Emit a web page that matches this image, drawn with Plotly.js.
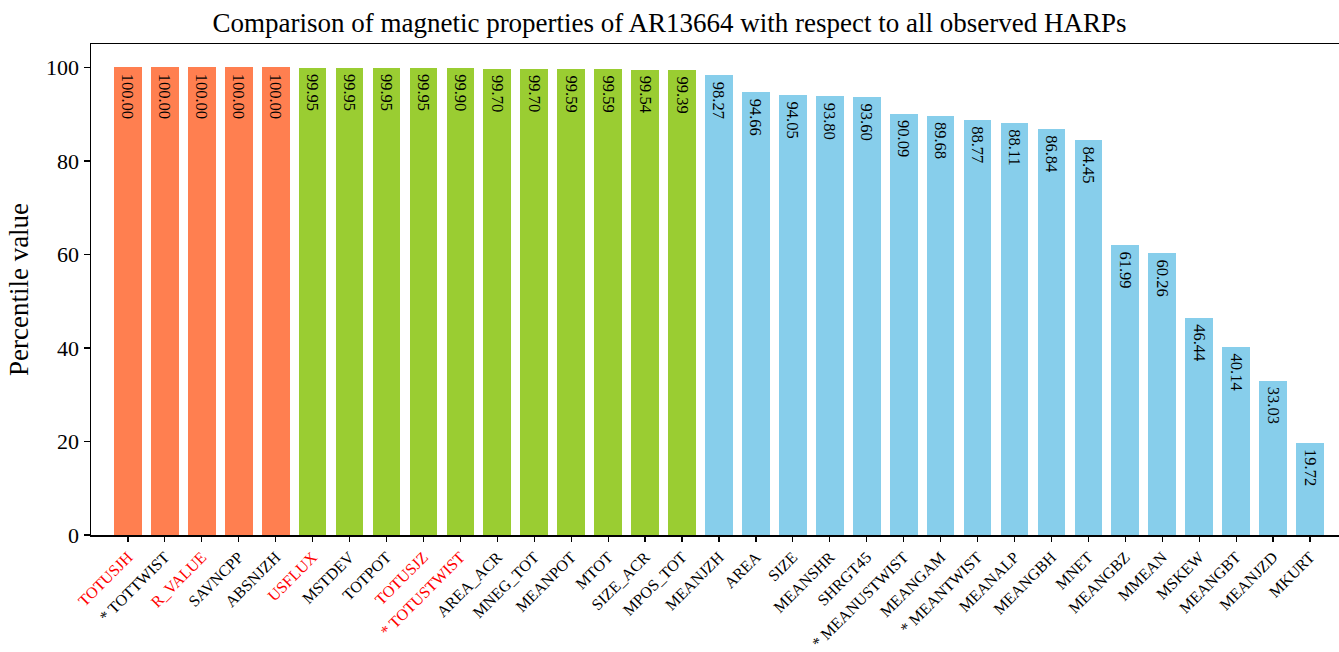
<!DOCTYPE html>
<html>
<head>
<meta charset="utf-8">
<script src="https://cdn.plot.ly/plotly-3.0.1.min.js"></script>
<style>html,body{margin:0;padding:0;background:#fff;}#chart{width:1339px;height:652px;}</style>
</head>
<body>
<div id="chart"></div>
<script>
const categories = ["TOTUSJH","TOTTWIST","R_VALUE","SAVNCPP","ABSNJZH","USFLUX","MSTDEV","TOTPOT","TOTUSJZ","TOTUSTWIST","AREA_ACR","MNEG_TOT","MEANPOT","MTOT","SIZE_ACR","MPOS_TOT","MEANJZH","AREA","SIZE","MEANSHR","SHRGT45","MEANUSTWIST","MEANGAM","MEANTWIST","MEANALP","MEANGBH","MNET","MEANGBZ","MMEAN","MSKEW","MEANGBT","MEANJZD","MKURT"];
const values = [100.00,100.00,100.00,100.00,100.00,99.95,99.95,99.95,99.95,99.90,99.70,99.70,99.59,99.59,99.54,99.39,98.27,94.66,94.05,93.80,93.60,90.09,89.68,88.77,88.11,86.84,84.45,61.99,60.26,46.44,40.14,33.03,19.72];
const groups = ["top","top","top","top","top","mid","mid","mid","mid","mid","mid","mid","mid","mid","mid","mid","low","low","low","low","low","low","low","low","low","low","low","low","low","low","low","low","low"];
const starred = ["TOTTWIST","TOTUSTWIST","MEANUSTWIST","MEANTWIST"];
const redLabels = ["TOTUSJH","R_VALUE","USFLUX","TOTUSJZ","TOTUSTWIST"];
const groupColors = {top:"#FF7F50", mid:"#9ACD32", low:"#87CEEB"};

const xs = categories.map((c,i)=>i);
const tickText = categories.map(c=>{
  let t = (starred.includes(c) ? "* " : "") + c;
  return redLabels.includes(c) ? '<span style="color:red">'+t+'</span>' : t;
});
const font = '"Liberation Serif", "Times New Roman", serif';

Plotly.newPlot('chart', [{
  type:'bar',
  x: xs,
  y: values,
  width: 0.75,
  marker:{color: groups.map(g=>groupColors[g]), line:{width:0}},
  text: values.map(v=>'\u2009' + v.toFixed(2)),
  textposition:'inside',
  insidetextanchor:'end',
  textangle:90,
  constraintext:'none',
  textfont:{family:font, size:16.5, color:'#000'},
  hoverinfo:'x+y'
}], {
  width:1339, height:652,
  margin:{l:91, r:0, t:44, b:117},
  paper_bgcolor:'#fff', plot_bgcolor:'#fff',
  font:{family:font, color:'#000'},
  title:{text:'Comparison of magnetic properties of AR13664 with respect to all observed HARPs', font:{family:font,size:27,color:'#000'}, x:0.5, xanchor:'center', y:0.966, yanchor:'middle'},
  xaxis:{
    range:[-1, 32.785],
    tickmode:'array', tickvals: xs, ticktext: tickText,
    tickangle:-45, tickfont:{family:font, size:16, color:'#000'},
    showline:true, linecolor:'#000', linewidth:1.5, mirror:true,
    ticks:'outside', ticklen:5, tickcolor:'#000', tickwidth:1.2,
    showgrid:false, zeroline:false, fixedrange:true
  },
  yaxis:{
    range:[0,105],
    tickvals:[0,20,40,60,80,100],
    tickfont:{family:font, size:22, color:'#000'},
    title:{text:'Percentile value', font:{family:font,size:27,color:'#000'}, standoff:9},
    showline:true, linecolor:'#000', linewidth:1.5,
    ticks:'outside', ticklen:6, tickcolor:'#000', tickwidth:1.2,
    showgrid:false, zeroline:false, fixedrange:true
  },
  bargap:0, showlegend:false
}, {displayModeBar:false, staticPlot:true});
</script>
</body>
</html>
